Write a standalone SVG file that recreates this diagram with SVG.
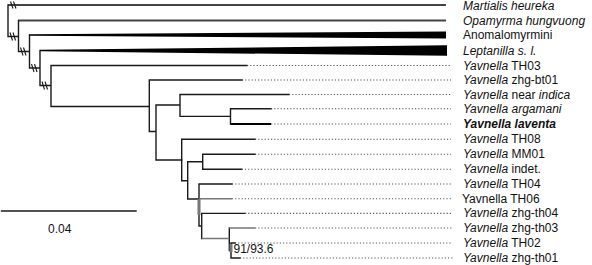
<svg xmlns="http://www.w3.org/2000/svg" width="592" height="265" viewBox="0 0 592 265">
<style>
.b{fill:none;stroke:#1a1a1a;stroke-width:1.4;stroke-linecap:square}
.g{fill:none;stroke:#777;stroke-width:1.4}
.gt{fill:none;stroke:#777;stroke-width:3}
.d{fill:none;stroke:#555;stroke-width:1.1;stroke-dasharray:1.2 2}
.top{fill:none;stroke:#444;stroke-width:1.8}
.brk{fill:none;stroke:#1a1a1a;stroke-width:1.1}
text{font-family:"Liberation Sans",Arial,sans-serif;font-size:12px;fill:#111}
.i{font-style:italic}
</style>
<rect width="592" height="265" fill="#fff"/>
<g id="connectors">
<path class="top" d="M8,5H446M18.5,20.5H446"/>
<path class="b" d="M8,5V36.5H18.5M18.5,20.5V51.5H29.5M29.5,35V68H40M40,50.5V85.5H51M51,65.5V106.5H149.3M51,65.5H247"/>
<polygon points="29.5,34.3 446,31.5 446,38.5 29.5,35.7" fill="#000"/>
<polygon points="40,49.8 447,45.3 447,55.7 40,51.3" fill="#000"/>
<path class="brk" d="M10.5,1.5L13,8.5M13.5,1.5L16,8.5M10,32.5L12.5,40.5M13,32.5L15.5,40.5M20.5,47.5L23,55.5M23.5,47.5L26,55.5M31.5,64L34,72M34.5,64L37,72M42,81.5L44.5,89.5M45,81.5L47.5,89.5"/>
<path class="b" d="M149.3,80V131.5H156M149.3,80H242M156,105V160H181.7M156,105H180M180,94.5V116.4H230.5M180,94.5H289M230.5,108.8V124M230.5,108.8H271"/>
<path fill="none" stroke="#000" stroke-width="1.8" d="M230.5,124H271"/>
<path class="b" d="M181.7,139.3V180.7H187.7M181.7,139.3H255M187.7,161.8V199H199M187.7,161.8H202.7M202.7,154.3V169.2M202.7,154.3H255M202.7,169.2H241.7M199,184V226H201.7M199,184H232M201.7,213.4V238.5M201.7,213.4H245M229.3,228V250.5H231M231,243V258M231,258H240M231,243H235"/>
<path class="g" d="M199,198.8H232M201.7,238.5H229.3M229.3,228H255"/>
<path class="gt" d="M199,199V215M231,244V252"/>
<path class="d" d="M247,65.5H451M242,80H451M289,94.5H451M271,108.8H451M271,124H451M255,139.3H451M255,154.3H451M241.7,169.2H451M232,184H451M232,198.8H451M245,213.4H451M255,228H452M235,243H452M240,258H453"/>
<path class="b" d="M1.5,211H136"/>
</g>
<g id="labels">
<text x="463" y="10" class="i" font-size="11.8">Martialis heureka</text>
<text x="463" y="24.5" class="i" font-size="12.4">Opamyrma hungvuong</text>
<text x="463" y="39">Anomalomyrmini</text>
<text x="463" y="54.5" class="i">Leptanilla s. l.</text>
<text x="463" y="69.5"><tspan class="i">Yavnella</tspan> TH03</text>
<text x="463" y="84"><tspan class="i">Yavnella</tspan> zhg-bt01</text>
<text x="463" y="98.5"><tspan class="i">Yavnella</tspan> near <tspan class="i">indica</tspan></text>
<text x="463" y="112.8" class="i">Yavnella argamani</text>
<text x="463" y="128" class="i" font-weight="bold">Yavnella laventa</text>
<text x="463" y="143.3"><tspan class="i">Yavnella</tspan> TH08</text>
<text x="463" y="158.3"><tspan class="i">Yavnella</tspan> MM01</text>
<text x="463" y="173.2"><tspan class="i">Yavnella</tspan> indet.</text>
<text x="463" y="188"><tspan class="i">Yavnella</tspan> TH04</text>
<text x="462" y="202.8">Yavnella TH06</text>
<text x="463" y="217.4"><tspan class="i">Yavnella</tspan> zhg-th04</text>
<text x="463" y="232"><tspan class="i">Yavnella</tspan> zhg-th03</text>
<text x="463" y="247"><tspan class="i">Yavnella</tspan> TH02</text>
<text x="463" y="262"><tspan class="i">Yavnella</tspan> zhg-th01</text>
<text x="233.5" y="253.3" font-size="11">91/93.6</text>
<text x="48" y="233" font-size="13">0.04</text>
</g>
</svg>
